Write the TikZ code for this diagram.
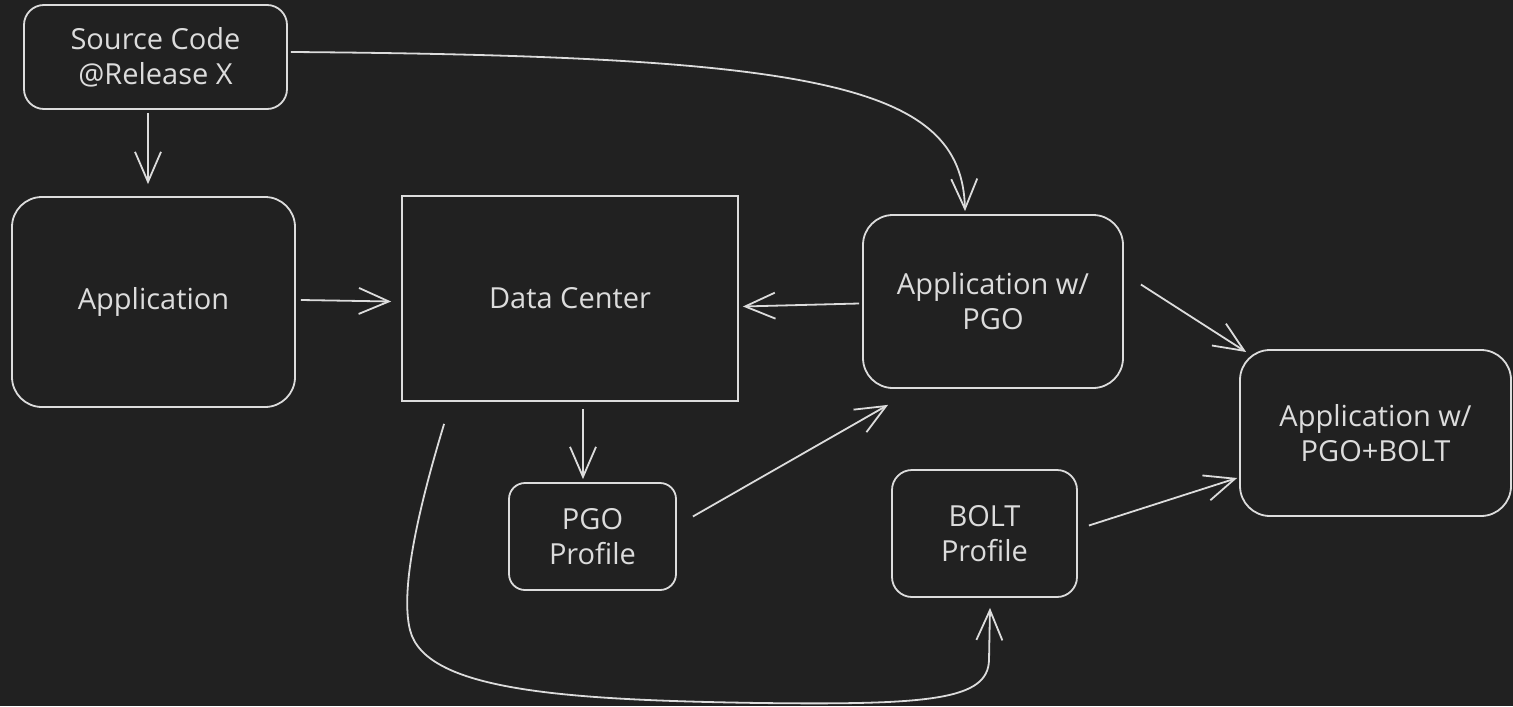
\documentclass[tikz,border=0pt]{standalone}
\usepackage{fontspec}
\setmainfont{Open Sans}
\usetikzlibrary{arrows.meta,calc}
\definecolor{bg}{HTML}{212121}
\definecolor{fg}{HTML}{DCDCDC}
\begin{document}
\begin{tikzpicture}[x=0.5pt,y=-0.5pt,
  box/.style={draw=fg,line width=0.9pt,text=fg,align=center,font=\fontsize{14.5}{17.5}\selectfont,inner sep=0pt},
  arr/.style={draw=fg,line width=0.9pt,-{Straight Barb[length=15pt,width=13pt,line width=0.9pt]}}]
\useasboundingbox[fill=bg] (0,0) rectangle (1513,706);
% nodes
\node[box,rounded corners=10pt,minimum width=131.5pt,minimum height=52pt] (src) at (155.5,57) {Source Code\\@Release X};
\node[box,rounded corners=15pt,minimum width=141.5pt,minimum height=105pt] (app) at (153.5,302) {Application};
\node[box,minimum width=168pt,minimum height=102.5pt] (dc) at (570,298.5) {Data Center};
\node[box,rounded corners=15pt,minimum width=130pt,minimum height=86.5pt] (apgo) at (993,301.5) {Application w/\\PGO};
\node[box,rounded corners=15pt,minimum width=135.5pt,minimum height=83pt] (abolt) at (1375.5,433) {Application w/\\PGO+BOLT};
\node[box,rounded corners=8pt,minimum width=83.5pt,minimum height=53.5pt] (pgo) at (592.5,536.5) {PGO\\Profile};
\node[box,rounded corners=10pt,minimum width=92.5pt,minimum height=63.5pt] (bolt) at (984.5,533.5) {BOLT\\Profile};
% connectors
\draw[arr] ($(src.south)+(-7.5,3)$) -- ($(app.north)+(-5.5,-12)$);
\draw[arr] ($(src.east)+(3,-5)$) .. controls (820,56) and (962,85) .. ($(apgo.north)+(-28,-3)$);
\draw[arr] ($(app.east)+(5,-2)$) -- ($(dc.west)+(-10,3)$);
\draw[arr] ($(apgo.west)+(-3,2)$) -- ($(dc.east)+(4,8)$);
\draw[arr] ($(dc.south)+(13,7)$) -- ($(pgo.north)+(-9.5,-3)$);
\draw[arr] ($(pgo.east)+(16,-20)$) -- ($(apgo.south)+(-105,16)$);
\draw[arr] ($(apgo.east)+(17,-17)$) -- ($(abolt.west)+(7,-81)$);
\draw[arr] ($(bolt.east)+(11,-8)$) -- ($(abolt.west)+(-2,45)$);
\draw[arr] ($(dc.south west)+(43,22)$) .. controls (418,510) and (400,590) .. (410,630)
  .. controls (425,690) and (560,700) .. (760,703)
  .. controls (930,705) and (988,700) .. (989,660) -- ($(bolt.south)+(5.5,10)$);
\end{tikzpicture}
\end{document}
